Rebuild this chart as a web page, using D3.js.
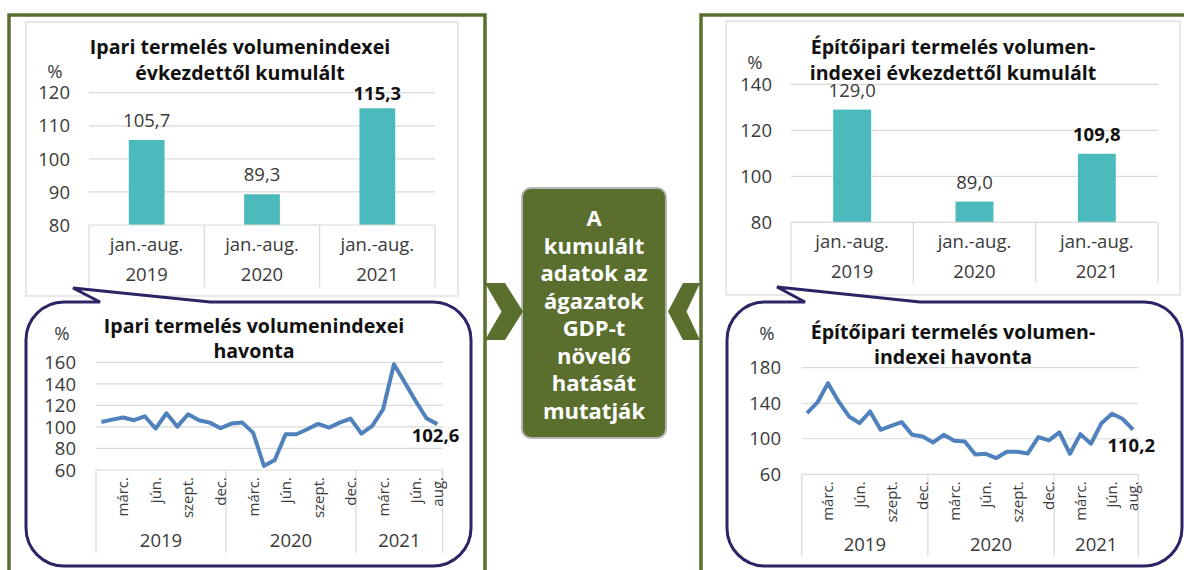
<!DOCTYPE html>
<html>
<head>
<meta charset="utf-8">
<script src="https://cdn.jsdelivr.net/npm/d3@7"></script>
<style>
  body { margin: 0; background: #fff; }
  svg { display: block; font-family: "Open Sans", sans-serif; }
</style>
</head>
<body>
<svg width="1184" height="570"></svg>
<script>
// ---- data ----
const barYears = ['2019', '2020', '2021'];
const barPeriod = 'jan.-aug.';
const ipariCum = [105.7, 89.3, 115.3];
const epitoCum = [129.0, 89.0, 109.8];

const lineYears = ['2019', '2020', '2021'];
const monthsPerYear = [12, 12, 8];
const monthTicks = [
  '', '', 'márc.', '', '', 'jún.', '', '', 'szept.', '', '', 'dec.',
  '', '', 'márc.', '', '', 'jún.', '', '', 'szept.', '', '', 'dec.',
  '', '', 'márc.', '', '', 'jún.', '', 'aug.'
];
const ipariMonthly = [104.6, 106.8, 108.7, 106.2, 109.9, 98.5, 112.7, 100.3, 111.8, 106.2, 104.0, 98.8,
  103.1, 104.0, 94.7, 63.8, 69.3, 93.2, 93.2, 97.8, 102.8, 99.4, 104.0, 107.7,
  93.8, 100.9, 116.4, 158.2, 141.2, 124.1, 108.0, 102.6];
const epitoMonthly = [128.9, 140.9, 162.6, 142.0, 125.1, 117.6, 130.7, 110.1, 114.6, 118.7, 104.5, 102.6,
  95.9, 104.5, 97.8, 97.0, 82.4, 83.1, 78.3, 85.4, 85.4, 83.5, 101.9, 98.1,
  107.1, 83.1, 105.2, 94.4, 117.6, 128.1, 122.5, 110.2];

const ipariBarTicks = [80, 90, 100, 110, 120];
const epitoBarTicks = [80, 100, 120, 140];
const ipariLineTicks = [60, 80, 100, 120, 140, 160];
const epitoLineTicks = [60, 100, 140, 180];

const midText = ['A', 'kumulált', 'adatok az', 'ágazatok', 'GDP-t', 'növelő', 'hatását', 'mutatják'];

// ---- style ----
const green = '#5a6e2e';
const navy = '#2b2566';
const teal = '#4bbabd';
const blue = '#4f81bd';
const grid = '#d9d9d9';
const txt = '#3a3a3a';

const fmt = v => v.toFixed(1).replace('.', ',');

const svg = d3.select('svg');

// outer green frames
svg.append('rect').attr('x', 9).attr('y', 15).attr('width', 476).attr('height', 600)
  .attr('fill', 'none').attr('stroke', green).attr('stroke-width', 3.5);
svg.append('rect').attr('x', 701).attr('y', 15).attr('width', 520).attr('height', 600)
  .attr('fill', 'none').attr('stroke', green).attr('stroke-width', 3.5);

// chart areas
svg.append('rect').attr('x', 26).attr('y', 22).attr('width', 432).attr('height', 274)
  .attr('fill', '#fff').attr('stroke', grid).attr('stroke-width', 1.2);
svg.append('rect').attr('x', 726).attr('y', 21).attr('width', 454).attr('height', 274)
  .attr('fill', '#fff').attr('stroke', grid).attr('stroke-width', 1.2);

function title(g, lines, cx, ys) {
  lines.forEach((l, i) => {
    g.append('text').attr('x', cx).attr('y', ys[i]).attr('text-anchor', 'middle')
      .attr('font-weight', 700).attr('font-size', 19.6).attr('fill', '#111').text(l);
  });
}

function barChart(cfg) {
  const g = svg.append('g');
  const x = d3.scaleBand().domain(barYears).range(cfg.xr);
  const y = d3.scaleLinear().domain(cfg.yd).range(cfg.yr);

  g.selectAll('.grid').data(cfg.ticks.slice(1)).join('line')
    .attr('x1', cfg.xr[0]).attr('x2', cfg.xr[1])
    .attr('y1', d => y(d)).attr('y2', d => y(d))
    .attr('stroke', grid).attr('stroke-width', 1.2);

  g.selectAll('.tick').data(cfg.ticks).join('text')
    .attr('x', cfg.tickX).attr('y', d => y(d)).attr('dy', '0.36em')
    .attr('text-anchor', 'end').attr('font-size', 18.5).attr('fill', txt)
    .text(d => d);

  g.selectAll('.bar').data(cfg.values).join('rect')
    .attr('x', (d, i) => x(barYears[i]) + x.bandwidth() * 0.345)
    .attr('width', x.bandwidth() * 0.31)
    .attr('y', d => y(d)).attr('height', d => y(cfg.yd[0]) - y(d))
    .attr('fill', teal);

  g.selectAll('.lbl').data(cfg.values).join('text')
    .attr('x', (d, i) => x(barYears[i]) + x.bandwidth() / 2)
    .attr('y', d => Math.max(y(d) - 13, cfg.yr[1] + 7))
    .attr('text-anchor', 'middle').attr('font-size', 18.5)
    .attr('font-weight', (d, i) => i === 2 ? 700 : 400)
    .attr('fill', (d, i) => i === 2 ? '#111' : txt)
    .text(d => fmt(d));

  // category axis box
  const y0 = y(cfg.yd[0]);
  g.append('line').attr('x1', cfg.xr[0]).attr('x2', cfg.xr[1]).attr('y1', y0).attr('y2', y0)
    .attr('stroke', grid).attr('stroke-width', 1.2);
  const edges = barYears.map(d => x(d)).concat([cfg.xr[1]]);
  g.selectAll('.sep').data(edges).join('line')
    .attr('x1', d => d).attr('x2', d => d).attr('y1', y0).attr('y2', y0 + cfg.boxH)
    .attr('stroke', grid).attr('stroke-width', 1.2);
  g.selectAll('.per').data(barYears).join('text')
    .attr('x', d => x(d) + x.bandwidth() / 2).attr('y', y0 + 26)
    .attr('text-anchor', 'middle').attr('font-size', 18.5).attr('fill', txt).text(barPeriod);
  g.selectAll('.yr').data(barYears).join('text')
    .attr('x', d => x(d) + x.bandwidth() / 2).attr('y', y0 + 55.5)
    .attr('text-anchor', 'middle').attr('font-size', 18.5).attr('fill', txt).text(d => d);

  g.append('text').attr('x', cfg.pct[0]).attr('y', cfg.pct[1]).attr('text-anchor', 'middle')
    .attr('font-size', 18.5).attr('fill', txt).text('%');
  title(g, cfg.title, cfg.titleX, cfg.titleY);
}

function bubble(x0, y0, x1, y1, r, b1, b2, tip) {
  const p = d3.path();
  p.moveTo(x0 + r, y0);
  p.lineTo(b1, y0);
  p.lineTo(tip[0], tip[1]);
  p.lineTo(b2, y0);
  p.lineTo(x1 - r, y0);
  p.arcTo(x1, y0, x1, y0 + r, r);
  p.lineTo(x1, y1 - r);
  p.arcTo(x1, y1, x1 - r, y1, r);
  p.lineTo(x0 + r, y1);
  p.arcTo(x0, y1, x0, y1 - r, r);
  p.lineTo(x0, y0 + r);
  p.arcTo(x0, y0, x0 + r, y0, r);
  p.closePath();
  svg.append('path').attr('d', p.toString())
    .attr('fill', '#fff').attr('stroke', navy).attr('stroke-width', 3);
}

function lineChart(cfg) {
  const g = svg.append('g');
  const idx = d3.range(cfg.values.length);
  const x = d3.scaleBand().domain(idx).range(cfg.xr);
  const y = d3.scaleLinear().domain(cfg.yd).range(cfg.yr);
  const cx = i => x(i) + x.bandwidth() / 2;

  g.selectAll('.grid').data(cfg.ticks.slice(1)).join('line')
    .attr('x1', cfg.xr[0]).attr('x2', cfg.xr[1])
    .attr('y1', d => y(d)).attr('y2', d => y(d))
    .attr('stroke', grid).attr('stroke-width', 1.2);

  g.selectAll('.tick').data(cfg.ticks).join('text')
    .attr('x', cfg.tickX).attr('y', d => y(d)).attr('dy', '0.36em')
    .attr('text-anchor', 'end').attr('font-size', 18.5).attr('fill', txt)
    .text(d => d);

  const y0 = y(cfg.yd[0]);
  g.append('line').attr('x1', cfg.xr[0]).attr('x2', cfg.xr[1]).attr('y1', y0).attr('y2', y0)
    .attr('stroke', grid).attr('stroke-width', 1.2);

  // year separators
  let start = 0;
  const spans = monthsPerYear.map(n => { const s = [start, start + n - 1]; start += n; return s; });
  const edges = spans.map(s => x(s[0])).concat([cfg.xr[1]]);
  g.selectAll('.sep').data(edges).join('line')
    .attr('x1', d => d).attr('x2', d => d).attr('y1', y0).attr('y2', y0 + cfg.boxH)
    .attr('stroke', grid).attr('stroke-width', 1.2);
  g.selectAll('.yr').data(lineYears).join('text')
    .attr('x', (d, i) => (x(spans[i][0]) + x(spans[i][1]) + x.bandwidth()) / 2)
    .attr('y', y0 + 77).attr('text-anchor', 'middle').attr('font-size', 18.5).attr('fill', txt)
    .text(d => d);

  g.selectAll('.mon').data(idx.filter(i => monthTicks[i])).join('text')
    .attr('transform', i => `translate(${cx(i)},${y0 + 7}) rotate(-90)`)
    .attr('dy', '0.36em').attr('text-anchor', 'end').attr('font-size', 15).attr('fill', txt)
    .text(i => monthTicks[i]);

  g.append('path').datum(cfg.values)
    .attr('d', d3.line().x((d, i) => cx(i)).y(d => y(d)))
    .attr('fill', 'none').attr('stroke', blue).attr('stroke-width', 4)
    .attr('stroke-linejoin', 'round');

  const last = cfg.values.length - 1;
  g.append('text').attr('x', cx(last) + 22).attr('y', y(cfg.values[last]) + cfg.lblDy)
    .attr('text-anchor', 'end').attr('font-size', 18.5).attr('font-weight', 700).attr('fill', '#111')
    .text(fmt(cfg.values[last]));

  g.append('text').attr('x', cfg.pct[0]).attr('y', cfg.pct[1]).attr('text-anchor', 'middle')
    .attr('font-size', 18.5).attr('fill', txt).text('%');
  title(g, cfg.title, cfg.titleX, cfg.titleY);
}

barChart({
  values: ipariCum, ticks: ipariBarTicks, yd: [80, 120], yr: [225, 92.7], xr: [89, 435],
  tickX: 70, boxH: 62, pct: [55, 78], titleX: 240, titleY: [54, 80],
  title: ['Ipari termelés volumenindexei', 'évkezdettől kumulált']
});
barChart({
  values: epitoCum, ticks: epitoBarTicks, yd: [80, 140], yr: [222.3, 84.3], xr: [791, 1158],
  tickX: 772, boxH: 61, pct: [755, 69], titleX: 953, titleY: [54, 80],
  title: ['Építőipari termelés volumen-', 'indexei évkezdettől kumulált']
});

bubble(26, 302, 471, 566, 38, 100, 210, [73, 288]);
bubble(727, 302, 1182, 566, 38, 805, 920, [777, 287]);

lineChart({
  values: ipariMonthly, ticks: ipariLineTicks, yd: [60, 160], yr: [470, 362.3], xr: [96, 442.7],
  tickX: 76, boxH: 83, lblDy: 18, pct: [62, 340], titleX: 254, titleY: [333, 358],
  title: ['Ipari termelés volumenindexei', 'havonta']
});
lineChart({
  values: epitoMonthly, ticks: epitoLineTicks, yd: [60, 180], yr: [474.3, 367.7], xr: [801.7, 1138.3],
  tickX: 781, boxH: 82, lblDy: 22, pct: [767, 340], titleX: 953, titleY: [339, 364],
  title: ['Építőipari termelés volumen-', 'indexei havonta']
});

// middle box with chevrons
const mid = svg.append('g');
mid.append('rect').attr('x', 522).attr('y', 188).attr('width', 144).attr('height', 250).attr('rx', 9)
  .attr('fill', green).attr('stroke', '#b5b5b5').attr('stroke-width', 2);
mid.selectAll('text').data(midText).join('text')
  .attr('x', 594).attr('y', (d, i) => 226 + i * 27.5).attr('text-anchor', 'middle')
  .attr('font-size', 22).attr('font-weight', 700).attr('fill', '#fff').text(d => d);
mid.append('path').attr('d', 'M485,283 L505,283 L523,311.5 L505,340 L485,340 L501.5,311.5 Z').attr('fill', green);
mid.append('path').attr('d', 'M700,283 L683,283 L668,311.5 L683,340 L700,340 L686.5,311.5 Z').attr('fill', green);
</script>
</body>
</html>
